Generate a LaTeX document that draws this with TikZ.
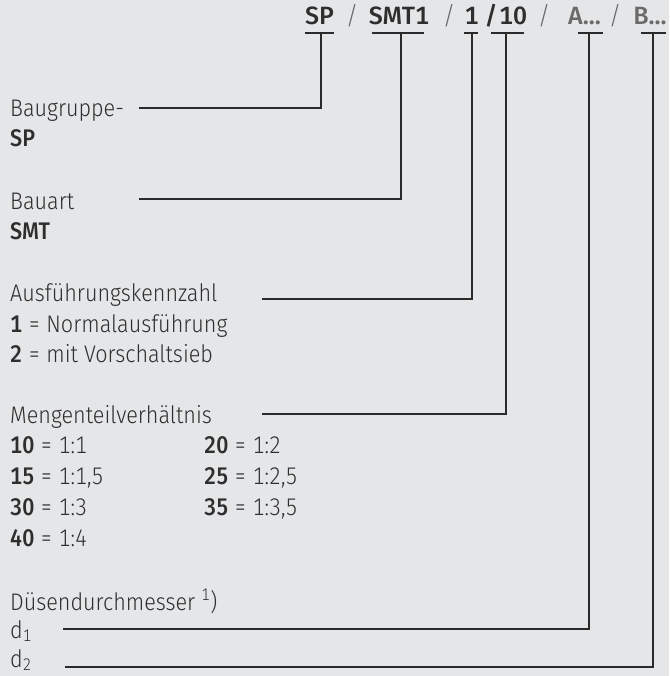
\documentclass[tikz,border=0pt]{standalone}
\usepackage{fontspec}
\setmainfont{Fira Sans}[UprightFont=* Light, BoldFont=* Medium, FakeStretch=0.9, Numbers={Monospaced,Lining}]
\newfontfamily\hdrfont{Fira Sans}[UprightFont=* Medium, BoldFont=* Medium, Numbers={Monospaced,Lining}]
\newfontfamily\sepfont{Fira Sans}[UprightFont=* Light]
\usetikzlibrary{calc}
\definecolor{bgc}{HTML}{E5E6E8}
\definecolor{txt}{HTML}{2E2E2E}
\definecolor{soft}{HTML}{6A6A6A}
\definecolor{ln}{HTML}{2A2A2A}
\begin{document}
\begin{tikzpicture}[x=1pt,y=-1pt,
  every node/.style={inner sep=0pt, text=txt, font=\fontsize{24}{28}\selectfont},
  lbl/.style={anchor=base west},
  hdr/.style={anchor=base, font=\fontsize{25}{28}\hdrfont},
  sep/.style={anchor=base, text=soft, font=\fontsize{25}{28}\sepfont},
  uline/.style={draw=ln, line width=1.4pt},
  conn/.style={draw=ln, line width=1.3pt}]
\fill[bgc] (0,0) rectangle (669,676);
\useasboundingbox (0,0) rectangle (669,676);

% header
\node[hdr] (hsp) at (319.5,25) {SP};
\node[sep] (s1) at (352,25) {/};
\node[hdr] (hsmt) at (399,25) {SMT1};
\node[sep] (s2) at (449,25) {/};
\node[hdr] (hone) at (471.5,25) {1};
\node[hdr] (s3) at (491,25) {/};
\node[hdr] (hten) at (513,25) {10};
\node[sep] (s4) at (544,25) {/};
\node[hdr, text=soft] (ha) at (584.5,25) {A...};
\node[sep] (s5) at (615,25) {/};
\node[hdr, text=soft] (hb) at (650,25) {B...};

% underlines
\draw[uline] (305,33) -- (334,33);
\draw[uline] (372,33) -- (424,33);
\draw[uline] (464,33) -- (478,33);
\draw[uline] (491,33) -- (524,33);
\draw[uline] (578,33) -- (603,33);
\draw[uline] (641,33) -- (666,33);

\coordinate (u1) at (321,33);
\coordinate (u2) at (401,33);
\coordinate (u3) at (472,33);
\coordinate (u4) at (506,33);
\coordinate (u5) at (589,33);
\coordinate (u6) at (653,33);

% labels
\node[lbl] (baugruppe) at (10,117) {Baugruppe-};
\node[lbl] (bsp) at (10,147) {\textbf{SP}};
\node[lbl] (bauart) at (10,209) {Bauart};
\node[lbl] (bsmt) at (10,239) {\textbf{SMT}};
\node[lbl] (ausf) at (10,301) {Ausführungskennzahl};
\node[lbl] (a1) at (10,332) {\textbf{1} = Normalausführung};
\node[lbl] (a2) at (10,362) {\textbf{2} = mit Vorschaltsieb};
\node[lbl] (menge) at (10,423) {Mengenteilverhältnis};
\node[lbl] (m10) at (10,453) {\textbf{10} = 1:1};
\node[lbl] (m20) at (204,453) {\textbf{20} = 1:2};
\node[lbl] (m15) at (10,484) {\textbf{15} = 1:1,5};
\node[lbl] (m25) at (204,484) {\textbf{25} = 1:2,5};
\node[lbl] (m30) at (10,515) {\textbf{30} = 1:3};
\node[lbl] (m35) at (204,515) {\textbf{35} = 1:3,5};
\node[lbl] (m40) at (10,546) {\textbf{40} = 1:4};
\node[lbl] (duese) at (10,610) {Düsendurchmesser \textsuperscript{1})};
\node[lbl] (d1) at (10,638) {d\textsubscript{1}};
\node[lbl] (d2) at (10,667) {d\textsubscript{2}};

% connector starts
\coordinate (c1) at (139,108);
\coordinate (c2) at (139,199);
\coordinate (c3) at (262,299);
\coordinate (c4) at (262,414);
\coordinate (c5) at (63,629);
\coordinate (c6) at (65,667);

\draw[conn] (c1) -| (u1);
\draw[conn] (c2) -| (u2);
\draw[conn] (c3) -| (u3);
\draw[conn] (c4) -| (u4);
\draw[conn] (c5) -| (u5);
\draw[conn] (c6) -| (u6);
\end{tikzpicture}
\end{document}
